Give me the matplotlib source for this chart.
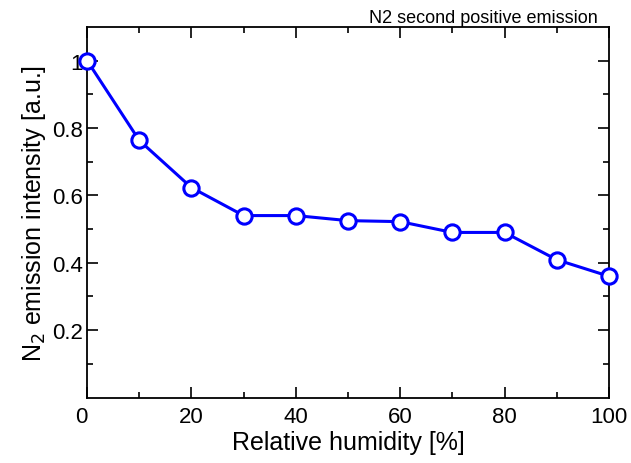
import numpy as np
import matplotlib.pyplot as plt
from matplotlib.transforms import ScaledTranslation

plt.rcParams['font.family'] = ['Liberation Sans', 'DejaVu Sans']

# Data
humidity = [0, 10, 20, 30, 40, 50, 60, 70, 80, 90, 100]
intensity = [1.0, 0.763, 0.623, 0.540, 0.540, 0.525, 0.522, 0.490, 0.490, 0.409, 0.360]

fig = plt.figure(figsize=(6.31, 4.64), dpi=100)
ax = fig.add_axes([0.138, 0.141, 0.827, 0.799])

ax.plot(humidity, intensity, color='#0000ff', lw=2.2, marker='o', ms=11,
        mfc='white', mec='#0000ff', mew=2.2, clip_on=False, zorder=3)

ax.set_xlim(0, 100)
ax.set_ylim(0, 1.1)
ax.set_xticks(np.arange(0, 101, 20))
ax.set_xticks(np.arange(10, 100, 20), minor=True)
ax.set_yticks([0.2, 0.4, 0.6, 0.8, 1.0])
ax.set_yticklabels(['0.2', '0.4', '0.6', '0.8', '1'])
ax.set_yticks(np.arange(0.1, 1.05, 0.2), minor=True)

ax.tick_params(which='both', direction='in', top=True, right=True,
               labelsize=16, width=1.2)
ax.tick_params(axis='x', pad=6)
ax.tick_params(axis='y', pad=3)
ax.tick_params(which='major', length=8)
ax.tick_params(which='minor', length=4.5)
for s in ax.spines.values():
    s.set_linewidth(1.3)

# the "0" label sits a little left of the corner in the reference
lbl0 = ax.get_xticklabels()[0]
lbl0.set_transform(lbl0.get_transform() + ScaledTranslation(-6 / 100, 0, fig.dpi_scale_trans))

ax.set_xlabel('Relative humidity [%]', fontsize=18, labelpad=2)
ax.set_ylabel('N$_2$ emission intensity [a.u.]', fontsize=18, labelpad=3)
fig.text(598 / 631, 1 - 23 / 464, 'N2 second positive emission', fontsize=13,
         ha='right', va='baseline')

fig.savefig('out.png', dpi=100)
